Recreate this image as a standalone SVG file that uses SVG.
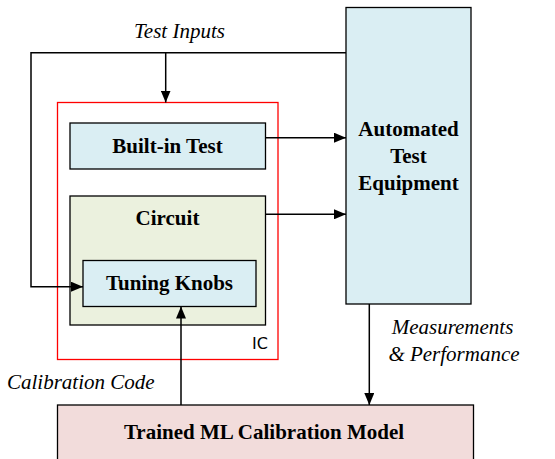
<svg xmlns="http://www.w3.org/2000/svg" width="555" height="459" viewBox="0 0 555 459">
<style>
.box{stroke:#000;stroke-width:1.3}
.blue{fill:#DAEEF3}
.green{fill:#EBF1DE}
.red{fill:#F2DCDB}
.ln{fill:none;stroke:#000;stroke-width:1.5}
</style>
<defs>
<marker id="ah" markerWidth="12" markerHeight="10" refX="12" refY="5" orient="auto" markerUnits="userSpaceOnUse">
<path d="M0,0 L12,5 L0,10 Z" fill="#000"/>
</marker>
</defs>
<rect width="555" height="459" fill="#fff"/>
<g id="ic">
<rect x="57.5" y="102.5" width="220.5" height="257" fill="none" stroke="#f00" stroke-width="1.3"/>
<text x="260" y="349" font-family="DejaVu Sans" font-size="16" text-anchor="middle">IC</text>
</g>
<g font-family="Liberation Serif" font-weight="bold" font-size="21" text-anchor="middle">
<g id="ate">
<rect class="box blue" x="346" y="7.5" width="125" height="296.5"/>
<text x="408.5" y="136">Automated</text>
<text x="408.5" y="163">Test</text>
<text x="408.5" y="190">Equipment</text>
</g>
<g id="bist">
<rect class="box blue" x="70" y="123" width="195.5" height="46"/>
<text x="167.5" y="153">Built-in Test</text>
</g>
<g id="circuit">
<rect class="box green" x="70" y="196" width="195.5" height="129"/>
<text x="167.5" y="225">Circuit</text>
</g>
<g id="knobs">
<rect class="box blue" x="83" y="260.5" width="173" height="46"/>
<text x="169.5" y="290">Tuning Knobs</text>
</g>
<g id="ml">
<rect class="box red" x="57.5" y="405" width="416" height="70"/>
<text x="264" y="439">Trained ML Calibration Model</text>
</g>
</g>
<g id="connectors">
<path class="ln" d="M346,52.7 H31 V286.7 H83" marker-end="url(#ah)"/>
<path class="ln" d="M165.7,52.7 V102.5" marker-end="url(#ah)"/>
<path class="ln" d="M265.5,137.7 H346" marker-end="url(#ah)"/>
<path class="ln" d="M265.5,214.3 H346" marker-end="url(#ah)"/>
<path class="ln" d="M369.3,304 V405" marker-end="url(#ah)"/>
<path class="ln" d="M181,405 V306.5" marker-end="url(#ah)"/>
</g>
<g id="labels" font-family="Liberation Serif" font-style="italic" font-size="21">
<text x="179.5" y="38" text-anchor="middle">Test Inputs</text>
<text x="452.5" y="334" text-anchor="middle">Measurements</text>
<text x="454" y="361" text-anchor="middle">&amp; Performance</text>
<text x="7" y="389">Calibration Code</text>
</g>
</svg>
